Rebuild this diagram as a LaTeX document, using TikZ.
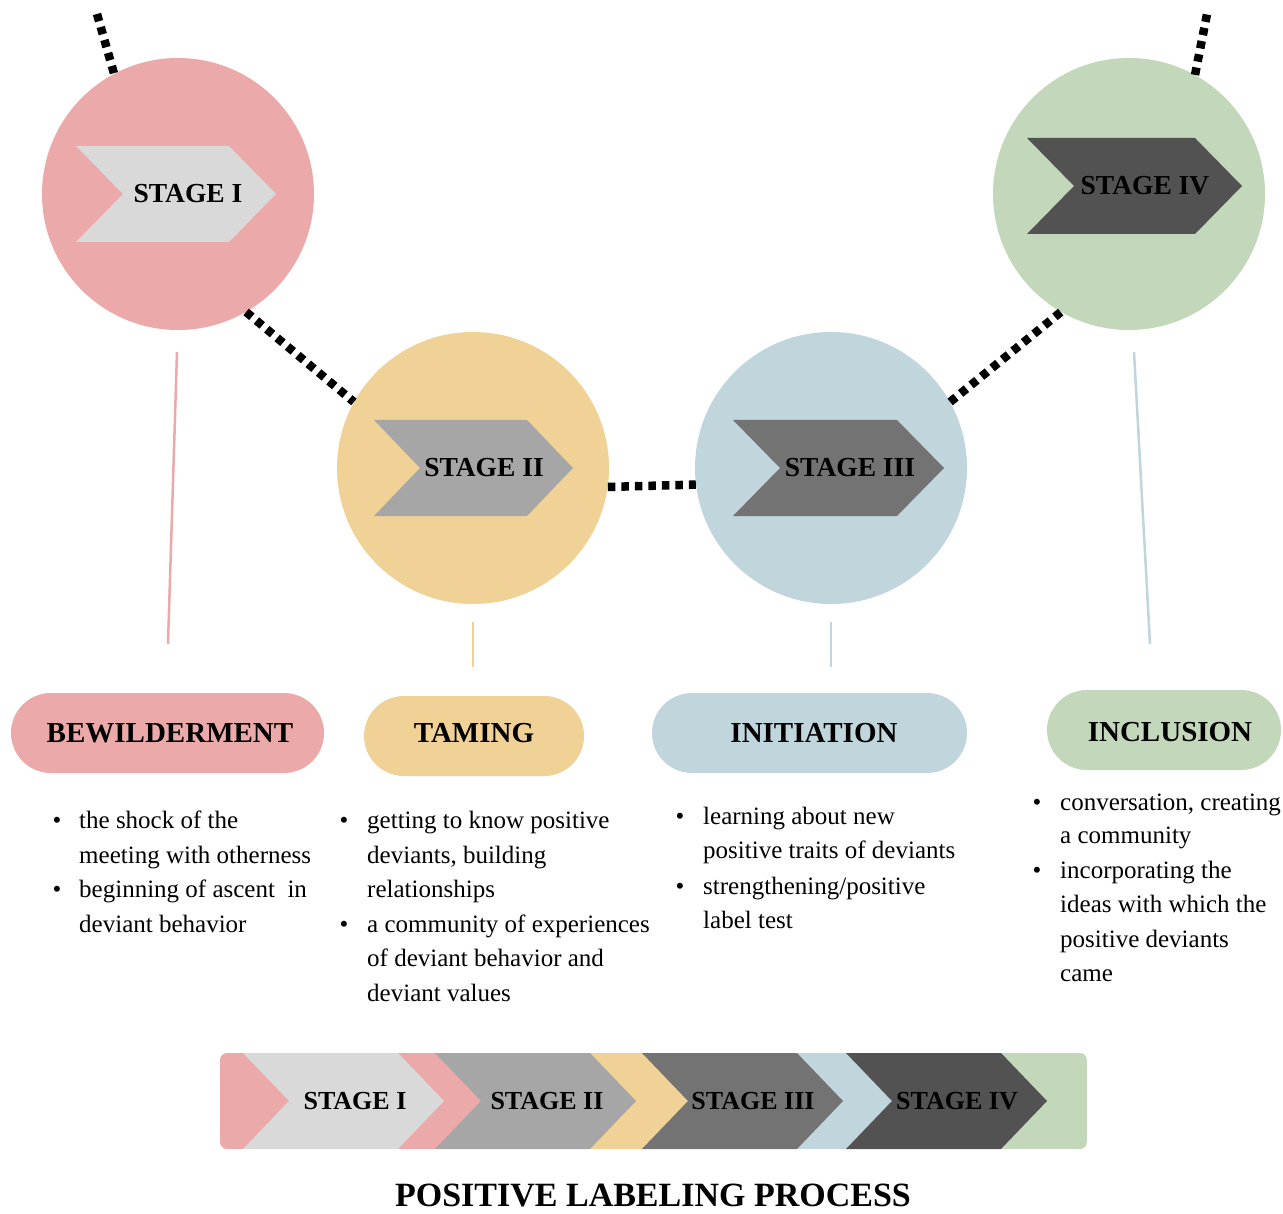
\documentclass[tikz,border=0pt]{standalone}
\usepackage{fontspec}
\setmainfont{Liberation Serif}
\definecolor{cpink}{HTML}{EBA9A9}
\definecolor{cyel}{HTML}{F0D196}
\definecolor{cblue}{HTML}{C1D6DC}
\definecolor{cgreen}{HTML}{C3D7BA}
\definecolor{ga}{HTML}{D9D9D9}
\definecolor{gb}{HTML}{A6A6A6}
\definecolor{gc}{HTML}{737373}
\definecolor{gd}{HTML}{525252}
\newcommand{\chevshape}[6]{% x y w h d colour
  \fill[#6] (#1,#2) -- ++({#3-#5},0) -- ++(#5,{#4/2}) -- ++(-#5,{#4/2}) -- ++({-#3+#5},0) -- ++(#5,{-#4/2}) -- cycle;}
\tikzset{
  stagecirc/.style={circle, minimum size=272pt, inner sep=0pt},
  stagetxt/.style={font=\fontsize{27.5}{27.5}\selectfont\bfseries, inner sep=0pt},
  bartxt/.style={font=\fontsize{26}{26}\selectfont\bfseries, inner sep=0pt},
  pill/.style={rounded corners=40pt, minimum height=80pt, inner sep=0pt},
  pilltxt/.style={font=\fontsize{29}{29}\selectfont\bfseries, inner sep=0pt},
  btxt/.style={font=\fontsize{25}{25}\selectfont, anchor=base west, inner sep=0pt},
  bdot/.style={font=\fontsize{25}{25}\selectfont, anchor=base, inner sep=0pt},
  dotline/.style={line width=8.5pt, dash pattern=on 7.5pt off 6pt, black},
  vline/.style={line width=2.5pt}
}
\begin{document}
\begin{tikzpicture}[x=1pt,y=-1pt]
\useasboundingbox (0,0) rectangle (1283,1214);
\fill[white] (0,0) rectangle (1283,1214);

% circles
\node[stagecirc, fill=cpink] (c1) at (178,194) {};
\node[stagecirc, fill=cyel] (c2) at (473,468) {};
\node[stagecirc, fill=cblue] (c3) at (831,468) {};
\node[stagecirc, fill=cgreen] (c4) at (1129,194) {};

% dotted path
\coordinate (t1) at (97,14);
\coordinate (t4) at (1207,14);
\draw[dotline] (t1) -- (c1.118);
\draw[dotline] (c1.-60) -- (c2.151);
\draw[dotline] (c2.-8) -- (c3.187);
\draw[dotline] (c3.29) -- (c4.-120);
\draw[dotline] (c4.61) -- (t4);

% chevrons in circles
\chevshape{76}{146}{200}{96}{47}{ga}
\chevshape{374}{420}{199}{96}{46}{gb}
\chevshape{733}{420}{211}{96}{47}{gc}
\chevshape{1027}{138}{215}{96}{47}{gd}
\node[stagetxt] (s1) at (188,194) {STAGE I};
\node[stagetxt] (s2) at (484,468) {STAGE II};
\node[stagetxt] (s3) at (850,468) {STAGE III};
\node[stagetxt] (s4) at (1145,186) {STAGE IV};

% pills
\node[pill, fill=cpink, minimum width=313pt] (p1) at (167.5,733) {};
\node[pill, fill=cyel, minimum width=220pt] (p2) at (474,736) {};
\node[pill, fill=cblue, minimum width=315pt] (p3) at (809.5,733) {};
\node[pill, fill=cgreen, minimum width=234pt] (p4) at (1164,730) {};
\node[pilltxt] (n1) at (170,733) {BEWILDERMENT};
\node[pilltxt] (n2) at (474,733) {TAMING};
\node[pilltxt] (n3) at (814,733) {INITIATION};
\node[pilltxt] (n4) at (1170,732) {INCLUSION};

% vertical connectors
\coordinate (v1a) at (177,352); \coordinate (v1b) at (168,644);
\coordinate (v2a) at (473,622); \coordinate (v2b) at (473,667);
\coordinate (v3a) at (831,622); \coordinate (v3b) at (831,667);
\coordinate (v4a) at (1134,352); \coordinate (v4b) at (1150,644);
\draw[vline, cpink] (v1a) -- (v1b);
\draw[vline, cyel] (v2a) -- (v2b);
\draw[vline, cblue] (v3a) -- (v3b);
\draw[vline, cblue] (v4a) -- (v4b);

% bullet column 1
\node[bdot] (d1a) at (57,828) {•};
\node[btxt] (l1a) at (79,828) {the shock of the};
\node[btxt] (l1b) at (79,863) {meeting with otherness};
\node[bdot] (d1b) at (57,897) {•};
\node[btxt] (l1c) at (79,897) {beginning of ascent\ \ in};
\node[btxt] (l1d) at (79,932) {deviant behavior};

% bullet column 2
\node[bdot] (d2a) at (344,828) {•};
\node[btxt] (l2a) at (367,828) {getting to know positive};
\node[btxt] (l2b) at (367,863) {deviants, building};
\node[btxt] (l2c) at (367,897) {relationships};
\node[bdot] (d2b) at (344,932) {•};
\node[btxt] (l2d) at (367,932) {a community of experiences};
\node[btxt] (l2e) at (367,966) {of deviant behavior and};
\node[btxt] (l2f) at (367,1001) {deviant values};

% bullet column 3
\node[bdot] (d3a) at (680,824) {•};
\node[btxt] (l3a) at (703,824) {learning about new};
\node[btxt] (l3b) at (703,858) {positive traits of deviants};
\node[bdot] (d3b) at (680,894) {•};
\node[btxt] (l3c) at (703,894) {strengthening/positive};
\node[btxt] (l3d) at (703,928) {label test};

% bullet column 4
\node[bdot] (d4a) at (1037,810) {•};
\node[btxt] (l4a) at (1060,810) {conversation, creating};
\node[btxt] (l4b) at (1060,843) {a community};
\node[bdot] (d4b) at (1037,878) {•};
\node[btxt] (l4c) at (1060,878) {incorporating the};
\node[btxt] (l4d) at (1060,912) {ideas with which the};
\node[btxt] (l4e) at (1060,947) {positive deviants};
\node[btxt] (l4f) at (1060,981) {came};

% bottom bar
\begin{scope}
\clip[rounded corners=7pt] (220,1053) rectangle (1087,1149);
\fill[cpink] (220,1053) rectangle (540,1149);
\fill[cyel] (540,1053) rectangle (740,1149);
\fill[cblue] (740,1053) rectangle (945,1149);
\fill[cgreen] (945,1053) rectangle (1087,1149);
\chevshape{243}{1053}{201}{96}{46}{ga}
\chevshape{435}{1053}{201}{96}{46}{gb}
\chevshape{642}{1053}{201}{96}{46}{gc}
\chevshape{846}{1053}{201}{96}{46}{gd}
\end{scope}
\node[bartxt] (b1) at (355,1101) {STAGE I};
\node[bartxt] (b2) at (547,1101) {STAGE II};
\node[bartxt] (b3) at (753,1101) {STAGE III};
\node[bartxt] (b4) at (957,1101) {STAGE IV};

\node[font=\fontsize{34}{34}\selectfont\bfseries, anchor=base, inner sep=0pt] (title) at (653,1206) {POSITIVE LABELING PROCESS};
\end{tikzpicture}
\end{document}
